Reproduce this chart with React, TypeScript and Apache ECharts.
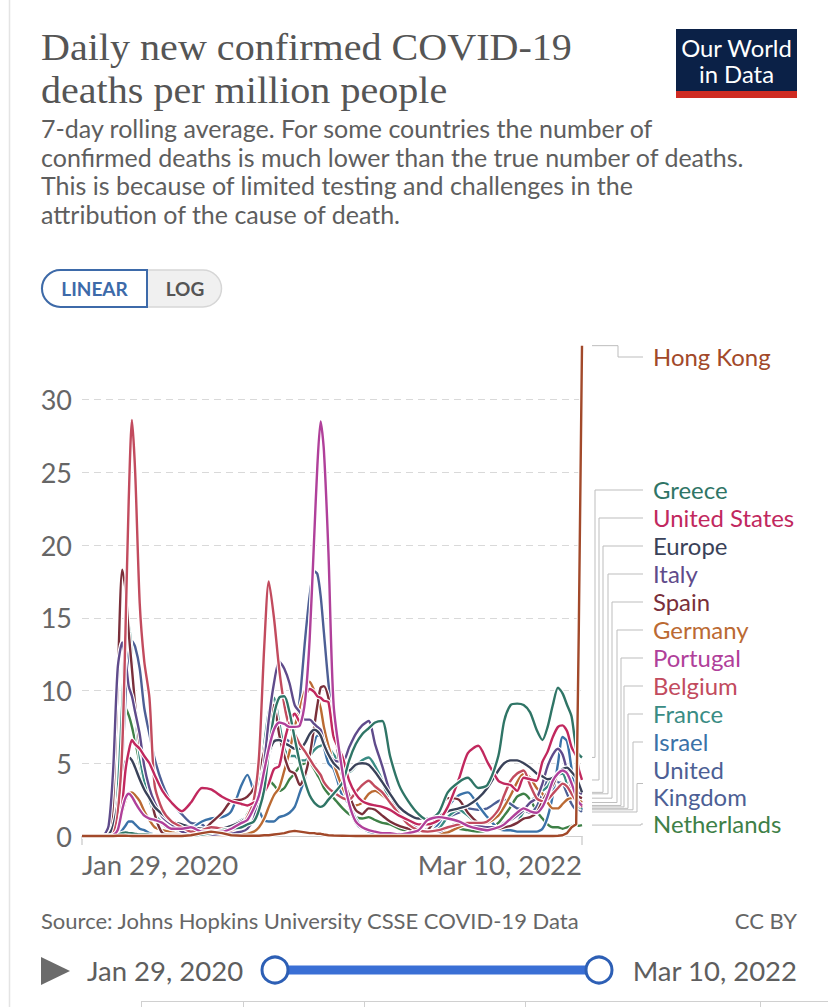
import { useEffect, useRef } from 'react';
import * as echarts from 'echarts';

// ---------- DATA ----------
const DATES = [
  '2020-01-29','2020-02-20','2020-03-01','2020-03-10','2020-03-17','2020-03-24','2020-03-31','2020-04-05','2020-04-10','2020-04-15',
  '2020-04-20','2020-04-27','2020-05-04','2020-05-12','2020-05-20','2020-06-01','2020-06-15','2020-07-01','2020-07-15','2020-08-01',
  '2020-08-15','2020-09-01','2020-09-15','2020-10-01','2020-10-10','2020-10-20','2020-10-28','2020-11-05','2020-11-12','2020-11-20',
  '2020-11-28','2020-12-06','2020-12-14','2020-12-22','2020-12-30',
  '2021-01-07','2021-01-14','2021-01-21','2021-01-26','2021-01-31','2021-02-05','2021-02-12','2021-02-20','2021-03-06','2021-03-16',
  '2021-03-26','2021-04-05','2021-04-15','2021-04-25','2021-05-06','2021-05-18','2021-06-01','2021-06-15','2021-07-01','2021-07-15',
  '2021-08-01','2021-08-15','2021-09-01','2021-09-15','2021-10-01','2021-10-15','2021-11-01','2021-11-10','2021-11-20','2021-11-30',
  '2021-12-10','2021-12-20','2021-12-30',
  '2022-01-08','2022-01-16','2022-01-24','2022-02-01','2022-02-08','2022-02-15','2022-02-22','2022-03-01','2022-03-05','2022-03-10',
];

const HONG_KONG = [
  0,0,0,0,0,0.02,0.02,0.02,0.01,0, 0,0,0,0,0,0,0,0,0.05,0.2, 0.3,0.2,0.05,0.02,0.02,0.02,0.02,0.05,0.05,0.1, 0.15,0.2,0.3,0.35,0.3,
  0.25,0.2,0.2,0.15,0.15,0.1,0.05,0.03,0.02,0.01, 0,0,0,0,0,0,0,0,0,0, 0,0,0,0,0,0,0,0,0,0, 0,0,0,
  0,0,0,0.02,0.05,0.2,0.6,0.8,14,33.7,
];
const GREECE = [
  0,0,0,0,0.02,0.1,0.2,0.25,0.2,0.2, 0.15,0.1,0.1,0.08,0.05,0.03,0.03,0.03,0.03,0.1, 0.2,0.4,0.5,0.6,0.8,1.0,1.8,3.2,5.8,8.3, 9.5,9.6,8.5,6.7,5.0,
  3.7,2.8,2.3,2.1,2.0,2.1,2.5,2.9,3.7,5.2, 6.3,7.0,7.4,7.8,7.9,5.5,3.5,2.4,1.5,1.1, 1.6,3.0,3.7,4.0,3.3,3.5,5.5,7.9,9.0,9.1, 9.0,8.5,7.3,
  6.6,7.5,9.0,10.2,9.8,9.0,8.2,6.0,5.6,5.4,
];
const UNITED_STATES = [
  0,0,0,0.01,0.05,0.4,2.2,4.5,5.8,6.6, 6.3,6.0,5.5,5.0,4.2,3.1,2.3,1.7,2.3,3.3, 3.2,2.7,2.4,2.2,2.1,2.3,2.5,3.0,3.6,4.6, 4.8,6.5,7.8,8.4,7.8,
  9.5,10.1,9.9,9.6,9.5,9.3,9.2,6.8,5.4,3.8, 2.9,2.4,2.2,2.1,2.0,1.8,1.4,1.1,0.8,0.8, 1.1,2.0,3.9,5.7,6.2,5.1,3.8,3.6,3.5,3.1, 4.0,3.9,3.8,
  5.1,5.8,6.8,7.5,7.6,7.2,6.1,5.5,4.6,3.85,
];
const EUROPE = [
  0,0,0.01,0.1,0.7,2.2,4.4,5.1,5.4,5.2, 4.7,3.9,3.2,2.6,2.0,1.5,1.0,0.8,0.6,0.5, 0.5,0.5,0.7,1.0,1.3,2.0,3.0,4.4,5.7,6.5, 6.6,6.4,6.2,6.0,6.0,
  6.4,7.0,7.3,7.2,6.9,6.3,5.6,5.0,4.5,4.5, 4.9,5.0,4.9,4.4,3.7,2.9,2.0,1.5,1.2,1.2, 1.4,1.7,1.9,2.1,2.6,3.3,4.5,5.0,5.2,5.2, 5.0,4.7,4.3,
  4.1,3.9,4.0,4.3,4.6,4.7,4.4,4.0,3.6,3.0,
];
const ITALY = [
  0,0,0.01,0.7,4.5,11.5,13.3,12.2,10.3,9.6, 8.5,7.0,4.8,3.3,2.3,1.3,0.8,0.3,0.2,0.15, 0.1,0.15,0.2,0.3,0.5,1.2,2.8,5.0,8.0,10.5, 12.0,11.5,10.5,9.0,8.5,
  8.0,8.0,7.7,7.5,7.3,6.5,5.7,5.2,5.1,6.1, 7.0,7.6,7.9,6.3,4.8,3.0,1.6,1.0,0.5,0.3, 0.3,0.6,0.9,0.9,0.7,0.6,0.6,0.9,1.1,1.4, 1.8,2.3,2.6,
  3.6,4.8,5.6,6.0,5.6,4.5,3.6,3.1,3.0,2.9,
];
const SPAIN = [
  0,0,0,0.03,2.5,10.5,18.3,17.0,14.0,11.5, 9.0,6.3,4.8,3.3,1.5,0.2,0.1,0.1,0.1,0.3, 0.9,1.6,2.4,2.5,2.7,3.3,4.5,5.8,7.5,9.0, 7.0,5.5,4.5,4.3,3.5,
  4.2,5.5,7.5,9.0,10.2,10.3,9.5,7.5,4.0,2.8, 1.8,1.5,1.9,1.8,1.4,1.0,0.7,0.5,0.3,0.4, 1.5,2.6,2.5,1.6,0.9,0.6,0.5,0.6,0.7,0.9, 1.2,1.3,1.6,
  2.4,3.0,3.5,4.3,4.5,4.3,3.3,2.9,2.7,2.6,
];
const GERMANY = [
  0,0,0,0,0.05,0.4,1.6,2.4,2.9,3.0, 2.8,2.4,1.7,1.1,0.6,0.4,0.25,0.1,0.07,0.06, 0.07,0.07,0.08,0.12,0.15,0.3,0.6,1.2,2.0,2.8, 3.3,4.5,5.8,7.5,8.8,
  10.0,10.6,10.0,9.5,8.8,7.5,6.2,5.0,3.3,2.5, 2.1,2.3,2.9,3.1,2.8,2.3,1.4,0.9,0.5,0.3, 0.2,0.25,0.6,0.8,0.8,0.9,1.4,2.0,2.8,3.7, 4.3,4.0,3.3,
  2.9,2.3,1.9,1.9,2.2,2.5,2.6,2.6,2.5,2.3,
];
const PORTUGAL = [
  0,0,0,0,0.05,0.4,1.8,2.6,2.9,2.7, 2.3,1.8,1.4,1.2,1.1,0.9,0.5,0.5,0.6,0.3, 0.3,0.3,0.5,0.9,1.1,1.9,2.8,4.5,6.0,7.3, 7.8,7.7,7.5,7.5,7.6,
  9.3,13.5,20.5,25.5,28.5,26.5,19.5,9.0,4.3,2.2, 1.0,0.6,0.4,0.3,0.2,0.2,0.1,0.2,0.4,1.1, 1.3,1.2,1.0,0.7,0.5,0.4,0.6,0.8,1.2,1.6, 1.9,1.7,1.6,
  2.0,2.8,3.8,4.3,4.5,4.3,3.6,2.7,2.3,2.1,
];
const BELGIUM = [
  0,0,0,0,0.1,1.5,6.0,14.0,23.0,28.6, 25.0,16.0,12.0,9.5,3.5,1.8,1.0,0.6,0.3,0.4, 0.6,0.5,0.4,0.8,1.3,2.5,5.5,13.0,17.5,15.0, 11.5,9.0,7.5,7.0,6.3,
  5.8,5.3,4.8,4.5,4.2,3.7,3.3,3.0,2.6,2.5, 3.0,3.5,3.8,3.4,3.0,2.3,1.5,0.8,0.4,0.3, 0.4,0.6,0.8,0.9,0.9,1.0,1.8,2.8,3.8,4.3, 4.5,3.5,2.6,
  2.4,2.5,2.9,3.3,3.6,3.4,2.9,2.4,2.2,2.0,
];
const FRANCE = [
  0,0,0,0.05,0.4,3.0,9.0,13.5,14.5,12.0, 8.5,5.5,3.8,2.5,1.5,0.9,0.5,0.3,0.2,0.2, 0.2,0.3,0.7,1.1,1.3,2.0,3.8,6.3,8.5,9.5, 7.8,6.0,5.5,5.5,5.2,
  5.2,5.5,5.9,6.1,6.2,6.3,6.1,5.6,4.7,4.4, 4.8,5.2,5.4,4.8,3.8,2.3,1.5,0.9,0.5,0.3, 0.5,1.3,1.8,1.4,0.8,0.5,0.5,0.6,0.7,0.9, 1.7,2.3,2.8,
  3.1,3.4,4.0,4.2,4.3,3.6,2.8,2.3,2.0,1.9,
];
const ISRAEL = [
  0,0,0,0,0,0.05,0.4,0.7,1.0,1.0, 0.8,0.5,0.4,0.2,0.1,0.05,0.05,0.1,0.5,1.0, 1.2,1.3,1.7,3.5,4.2,3.0,1.8,1.1,1.0,1.0, 1.3,1.4,1.6,2.0,3.0,
  4.0,5.3,6.4,6.9,6.8,6.1,5.0,4.6,2.7,2.2, 1.2,0.6,0.3,0.2,0.1,0.05,0.05,0.05,0.05,0.15, 0.8,2.0,2.8,3.0,2.1,1.3,0.5,0.4,0.4,0.3, 0.3,0.3,0.3,
  0.5,1.3,2.8,5.0,6.8,6.5,4.6,2.8,2.2,1.8,
];
const UNITED_KINGDOM = [
  0,0,0,0,0.1,0.9,5.0,9.5,12.5,13.4, 13.0,11.5,8.8,7.0,5.3,3.6,2.3,1.5,0.9,0.8, 0.2,0.15,0.3,0.8,1.1,2.0,3.3,4.5,5.5,6.5, 6.7,6.7,6.5,7.3,9.5,
  13.5,16.5,18.2,18.0,16.5,14.0,10.5,7.5,3.8,2.0, 0.9,0.5,0.4,0.3,0.2,0.15,0.15,0.15,0.25,0.5, 1.0,1.3,1.6,1.9,1.8,1.9,2.4,2.5,2.2,1.9, 1.8,1.6,2.0,
  3.0,3.9,4.0,3.7,3.6,2.9,2.2,1.8,1.8,1.65,
];
const NETHERLANDS = [
  0,0,0,0.02,0.3,2.5,7.0,8.8,8.3,7.5, 6.5,5.0,3.5,2.5,1.5,0.8,0.4,0.2,0.1,0.1, 0.2,0.2,0.3,0.8,1.5,2.3,3.0,3.7,3.8,3.5, 3.1,3.3,3.9,4.3,4.8,
  5.0,5.0,4.6,4.2,3.8,3.3,2.9,2.6,1.9,1.5, 1.3,1.2,1.3,1.1,0.9,0.8,0.5,0.3,0.1,0.1, 0.4,0.6,0.5,0.4,0.3,0.4,0.9,1.4,2.0,2.7, 2.9,2.5,1.7,
  1.2,0.8,0.6,0.6,0.5,0.6,0.7,0.8,0.7,0.75,
];

const Y_MIN = 0;
const Y_MAX = 30;
const Y_INTERVAL = 5;
const START_LABEL = 'Jan 29, 2020';
const END_LABEL = 'Mar 10, 2022';

// drawing order (first = bottom)
const COUNTRIES = [
  { name: 'Netherlands', label: 'Netherlands', values: NETHERLANDS, color: '#3e8047' },
  { name: 'United Kingdom', label: 'United\nKingdom', values: UNITED_KINGDOM, color: '#4d5f95' },
  { name: 'Israel', label: 'Israel', values: ISRAEL, color: '#3b72a8' },
  { name: 'France', label: 'France', values: FRANCE, color: '#3a8c84' },
  { name: 'Germany', label: 'Germany', values: GERMANY, color: '#bb6a33' },
  { name: 'Spain', label: 'Spain', values: SPAIN, color: '#7a2f3a' },
  { name: 'Italy', label: 'Italy', values: ITALY, color: '#5f4b8b' },
  { name: 'Europe', label: 'Europe', values: EUROPE, color: '#3a4259' },
  { name: 'Belgium', label: 'Belgium', values: BELGIUM, color: '#c24b5e' },
  { name: 'United States', label: 'United States', values: UNITED_STATES, color: '#c1285e' },
  { name: 'Greece', label: 'Greece', values: GREECE, color: '#2f7566' },
  { name: 'Portugal', label: 'Portugal', values: PORTUGAL, color: '#b0409a' },
  { name: 'Hong Kong', label: 'Hong Kong', values: HONG_KONG, color: '#a2492a' },
];

// ---------- LAYOUT (label stack on the right) ----------
const LABEL_ORDER = ['Hong Kong','Greece','United States','Europe','Italy','Spain','Germany','Portugal','Belgium','France','Israel','United Kingdom','Netherlands'];
const LABEL_Y = [357, 490, 518, 546, 574, 602, 630, 658, 686, 714, 742, 783.5, 824];
const ELBOW_X = [618, 595, 599, 603, 608, 612, 617, 621, 624, 628, 633, 637, 641];
const LABEL_X = 653;
const CONNECTOR_END_X = 643;

const SANS = 'Lato';
const toTime = (d: string) => new Date(d + 'T00:00:00').getTime();

export default function App() {
  const ref = useRef<HTMLDivElement>(null);
  useEffect(() => {
    document.body.style.margin = '0';
    const chart = echarts.init(ref.current as HTMLDivElement, null, { renderer: 'svg' });
    const series: any[] = [];
    COUNTRIES.forEach((c) => {
      const data = DATES.map((d, i) => [toTime(d), c.values[i]]);
      const smooth = c.name === 'Hong Kong' ? false : 0.25;
      // white halo underneath each line
      series.push({
        name: c.name + ' halo', type: 'line', data, showSymbol: false, symbol: 'none', smooth, clip: false, silent: true,
        lineStyle: { width: 4.6, color: '#ffffff' }, itemStyle: { color: '#ffffff' },
      });
      series.push({
        name: c.name, type: 'line', data, showSymbol: false, symbol: 'none', smooth, clip: false, silent: true,
        lineStyle: { width: 2.4, color: c.color }, itemStyle: { color: c.color },
      });
    });
    chart.setOption({
      animation: false,
      grid: { left: 82, right: 246, top: 399.5, bottom: 171 },
      xAxis: {
        type: 'time',
        min: toTime(DATES[0]),
        max: toTime(DATES[DATES.length - 1]),
        axisLabel: { show: false },
        axisTick: { show: false },
        splitLine: { show: false },
        axisLine: { show: true, lineStyle: { color: '#cfcfcf', width: 1 } },
      },
      yAxis: {
        type: 'value',
        min: Y_MIN,
        max: Y_MAX,
        interval: Y_INTERVAL,
        axisLine: { show: false },
        axisTick: { show: false },
        axisLabel: { fontSize: 27, color: '#666', fontFamily: SANS, margin: 10 },
        splitLine: { lineStyle: { type: [7, 5], color: '#d9d9d9', width: 1 } },
      },
      series,
    });

    const conv = (t: number, v: number) =>
      chart.convertToPixel({ xAxisIndex: 0, yAxisIndex: 0 }, [t, v]) as number[];
    const t0 = toTime(DATES[0]);
    const t1 = toTime(DATES[DATES.length - 1]);
    const p0 = conv(t0, 0);
    const p1 = conv(t1, 0);

    const txt = (text: string, x: number, y: number, o: any = {}) => ({
      type: 'text', silent: true, x, y, scaleX: o.scaleX || 1,
      style: {
        text, x: 0, y: 0, fill: o.fill || '#5e5e5e', fontSize: o.fontSize || 25, fontFamily: o.fontFamily || SANS,
        fontWeight: o.fontWeight || 'normal', lineHeight: o.lineHeight,
        textAlign: o.align || 'left', align: o.align || 'left',
        textVerticalAlign: 'middle', verticalAlign: 'middle',
      },
    });

    const connectors: any[] = [];
    LABEL_ORDER.forEach((name, i) => {
      const c = COUNTRIES.find((k) => k.name === name)!;
      const end = conv(t1, c.values[c.values.length - 1]);
      const sx = end[0] + 10;
      connectors.push({
        type: 'polyline',
        silent: true,
        shape: { points: [[sx, end[1]], [ELBOW_X[i], end[1]], [ELBOW_X[i], LABEL_Y[i]], [CONNECTOR_END_X, LABEL_Y[i]]] },
        style: { stroke: '#bdbdbd', lineWidth: 1, fill: null },
      });
      connectors.push(txt(c.label, LABEL_X, LABEL_Y[i], { fill: c.color, fontSize: 23, lineHeight: 27, scaleX: 1.04 }));
    });

    chart.setOption({
      graphic: [
        // card border
        { type: 'line', silent: true, shape: { x1: 9.5, y1: 0, x2: 9.5, y2: 1007 }, style: { stroke: '#e4e4e4', lineWidth: 1.5 } },
        // title
        txt('Daily new confirmed COVID-19\ndeaths per million people', 41, 68.5, { fontSize: 38, fontFamily: 'Liberation Serif', fill: '#555', lineHeight: 43, scaleX: 1.055 }),
        // subtitle
        txt('7-day rolling average. For some countries the number of\nconfirmed deaths is much lower than the true number of deaths.\nThis is because of limited testing and challenges in the\nattribution of the cause of death.', 41, 171, { fontSize: 25, lineHeight: 28.5 }),
        // logo
        { type: 'rect', silent: true, shape: { x: 676, y: 29, width: 121, height: 62 }, style: { fill: '#0b2147' } },
        { type: 'rect', silent: true, shape: { x: 676, y: 91, width: 121, height: 7 }, style: { fill: '#cf2b22' } },
        txt('Our World\nin Data', 736.5, 61, { fill: '#fff', fontSize: 22.5, align: 'center', lineHeight: 26, scaleX: 1.06 }),
        // linear/log toggle
        { type: 'rect', silent: true, shape: { x: 41.5, y: 270, width: 180, height: 37, r: 18.5 }, style: { fill: '#f0f0f0', stroke: '#d6d6d6', lineWidth: 1.5 } },
        { type: 'rect', silent: true, shape: { x: 42, y: 270, width: 105, height: 37, r: [18.5, 0, 0, 18.5] }, style: { fill: '#fff', stroke: '#3d6aa9', lineWidth: 2 } },
        txt('LINEAR', 94.5, 288.5, { fill: '#3d6aa9', fontSize: 19, fontWeight: 'bold', align: 'center' }),
        txt('LOG', 185, 288.5, { fill: '#555', fontSize: 19, fontWeight: 'bold', align: 'center' }),
        // x-axis end ticks and labels
        { type: 'line', silent: true, shape: { x1: p0[0], y1: p0[1], x2: p0[0], y2: p0[1] + 9 }, style: { stroke: '#bbb', lineWidth: 1 } },
        { type: 'line', silent: true, shape: { x1: p1[0], y1: p1[1], x2: p1[0], y2: p1[1] + 9 }, style: { stroke: '#bbb', lineWidth: 1 } },
        txt(START_LABEL, p0[0], 864, { fontSize: 27.5, fill: '#666' }),
        txt(END_LABEL, p1[0], 864, { fontSize: 27.5, fill: '#666', align: 'right' }),
        ...connectors,
        // source
        txt('Source: Johns Hopkins University CSSE COVID-19 Data', 41, 920, { fontSize: 22, fill: '#666' }),
        txt('CC BY', 797, 920, { fontSize: 22, fill: '#666', align: 'right' }),
        // timeline
        { type: 'polygon', silent: true, shape: { points: [[41, 957], [70, 971], [41, 985]] }, style: { fill: '#6b6b6b' } },
        txt(START_LABEL, 87, 970, { fontSize: 27.5, fill: '#5e5e5e' }),
        { type: 'line', silent: true, shape: { x1: 275, y1: 970, x2: 599, y2: 970 }, style: { stroke: '#3a6fd5', lineWidth: 9 } },
        { type: 'circle', silent: true, shape: { cx: 275, cy: 970, r: 13 }, style: { fill: '#fff', stroke: '#2d5fb5', lineWidth: 3 } },
        { type: 'circle', silent: true, shape: { cx: 599, cy: 970, r: 13 }, style: { fill: '#fff', stroke: '#2d5fb5', lineWidth: 3 } },
        txt(END_LABEL, 797, 970, { fontSize: 27.5, fill: '#5e5e5e', align: 'right' }),
        // table header hint
        { type: 'line', silent: true, shape: { x1: 141, y1: 1001.5, x2: 828, y2: 1001.5 }, style: { stroke: '#d0d0d0', lineWidth: 1 } },
        ...[141, 243, 364, 525, 760].map((x) => ({ type: 'line', silent: true, shape: { x1: x + 0.5, y1: 1001, x2: x + 0.5, y2: 1007 }, style: { stroke: '#d0d0d0', lineWidth: 1 } })),
      ],
    });
    return () => chart.dispose();
  }, []);
  return <div ref={ref} style={{ width: 828, height: 1007 }} />;
}
